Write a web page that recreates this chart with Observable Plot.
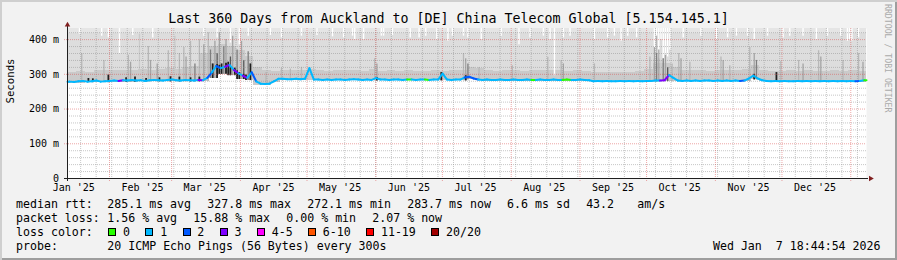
<!DOCTYPE html>
<html><head><meta charset="utf-8">
<script src="https://cdn.jsdelivr.net/npm/d3@7"></script>
<script src="https://cdn.jsdelivr.net/npm/@observablehq/plot@0.6"></script>
<style>
html,body{margin:0;padding:0;background:#f2f2f2;}
#wrap{position:relative;width:897px;height:260px;background:#f2f2f2;box-shadow:inset 2px 2px 0 #cfcfcf, inset -2px -2px 0 #9e9e9e;font-family:"DejaVu Sans Mono",monospace;color:#000;overflow:hidden;}
#title{position:absolute;left:0;top:10.7px;width:897px;text-align:center;font-size:13.3px;line-height:16px;white-space:pre;}
#chart{position:absolute;left:0;top:20px;}
#legend{position:absolute;left:16px;top:196.5px;font-size:11.6px;line-height:14px;white-space:pre;}
.row{height:14px;}
.lab{display:inline-block;width:91.3px;}
.lab3{display:inline-block;width:92.3px;}
.item{display:inline-block;margin-right:16.2px;}
.entry{display:inline-block;margin-right:15.5px;}
.box{display:inline-block;width:6px;height:6px;border:1px solid #000;margin-right:6.7px;}
#stamp{position:absolute;right:16.5px;top:238.5px;font-size:11.6px;line-height:14px;white-space:pre;}
#wm{position:absolute;left:883px;top:4px;writing-mode:vertical-rl;font-size:8.2px;line-height:10px;color:#aaaaaa;white-space:pre;}
</style>
</head><body>
<div id="wrap">
  <div id="title"></div>
  <div id="chart"></div>
  <div id="wm"></div>
  <div id="legend"></div>
  <div id="stamp"></div>
</div>
<script>
// ---------------- data ----------------
const titleText = "Last 360 Days from Auckland to [DE] China Telecom Global [5.154.145.1]";
const watermark = "RRDTOOL / TOBI OETIKER";
const yLabel = "Seconds";
const windowStart = "2025-01-13T02:00:00Z";
const windowDays = 360;
const yMax = 432;

const yTicks = [0, 100, 200, 300, 400];
const yTickLabels = ["0", "100 m", "200 m", "300 m", "400 m"];
const xTickDates = ["2025-01-15","2025-02-15","2025-03-15","2025-04-15","2025-05-15","2025-06-15",
                    "2025-07-15","2025-08-15","2025-09-15","2025-10-15","2025-11-15","2025-12-15"];
const xTickLabels = ["Jan '25","Feb '25","Mar '25","Apr '25","May '25","Jun '25",
                     "Jul '25","Aug '25","Sep '25","Oct '25","Nov '25","Dec '25"];

const lossLabels = ["0","1","2","3","4-5","6-10","11-19","20/20"];
const lossColors = ["#26ff00","#00b8ff","#0059ff","#7e00ff","#ff00ff","#ff5500","#ff0000","#a10000"];

// median rtt (ms), one value every 2 days
const medianStepDays = 2;
const median = [
279,278,280,281,279,280,282,279,280,281,
282,281,283,282,284,282,283,281,283,284,
283,282,284,285,283,282,284,283,282,284,
283,290,305,324,318,322,327,312,303,296,
290,306,280,273,272,273,280,287,287,286,
286,287,286,287,318,285,285,284,285,284,
285,285,284,285,286,285,284,285,284,289,
285,285,284,285,285,284,285,285,284,285,
285,284,285,285,302,285,284,285,285,291,
293,288,285,284,285,284,284,285,284,284,
285,284,284,285,284,284,285,284,284,285,
284,284,285,284,284,285,284,283,280,281,
280,281,280,280,281,280,281,280,281,280,
281,281,282,282,283,298,290,282,281,282,
281,282,281,282,282,281,282,281,282,281,
282,281,282,288,296,288,283,281,280,281,
280,281,280,280,281,280,281,280,281,280,
281,280,281,280,281,280,281,280,281,283];
// loss bucket (index into lossLabels), one value every 2 days
const loss = [
1,1,1,1,1,1,1,1,1,1,
1,3,1,1,1,1,1,1,1,1,
1,1,1,1,1,1,1,1,1,3,
1,2,1,2,1,3,1,3,1,3,
1,2,1,1,1,1,1,1,1,1,
1,1,1,1,1,1,1,1,1,1,
1,1,1,1,1,1,1,1,1,1,
1,1,1,1,1,1,0,1,1,1,
0,1,1,1,1,1,1,1,1,2,
2,2,1,1,1,1,1,1,1,1,
1,1,1,1,0,1,1,1,1,1,
1,0,0,1,1,1,1,1,1,1,
1,1,1,1,1,1,1,1,1,1,
1,1,1,3,3,1,1,1,1,1,
1,1,1,1,1,1,1,1,1,1,
1,2,1,1,1,1,1,1,1,1,
1,1,1,1,1,1,1,1,1,1,
1,1,1,1,1,1,1,2,1,0];

// smoke (ms), one value every 4 days
const smokeStepDays = 4;
const smokeLow = [
275,275,276,276,276,277,277,277,278,278,
278,278,278,278,278,279,288,300,296,285,
282,269,268,276,282,282,282,281,281,281,
281,281,281,281,281,281,281,281,281,281,
281,281,281,281,281,284,281,280,280,280,
280,280,280,280,280,280,280,280,279,277,
277,277,277,277,277,277,278,279,278,278,
278,278,278,278,278,278,278,284,278,277,
277,277,277,277,277,277,277,277,277,277];
const smokeMid = [
305,308,306,310,310,310,312,310,315,312,
315,318,315,320,322,360,380,385,380,370,
350,320,310,308,310,312,310,315,310,308,
310,312,310,308,315,308,310,308,310,308,
308,310,308,310,310,320,318,310,308,310,
312,308,310,310,312,310,308,310,308,306,
306,306,306,306,308,315,330,330,320,310,
310,310,308,310,310,310,315,325,312,308,
308,310,308,310,308,308,310,308,310,308];
const smokeBodyTop = 417;
const smokeCapTop = 432;

const spikeShadeColors = ["#cacaca","#b7b7b7","#a4a4a4","#7e7e7e","#585858","#202020"];
const spikeDates = [
"2025-01-19","2025-01-22","2025-01-24","2025-01-29","2025-01-31","2025-02-08","2025-02-09","2025-02-10",
"2025-02-12","2025-02-14","2025-02-17","2025-02-18","2025-02-19","2025-02-22","2025-02-23","2025-02-27",
"2025-02-28","2025-03-02","2025-03-04","2025-03-04","2025-03-06","2025-03-07","2025-03-09","2025-03-09",
"2025-03-11","2025-03-13","2025-03-13","2025-03-15","2025-03-17","2025-03-18","2025-03-19","2025-03-20",
"2025-03-21","2025-03-21","2025-03-22","2025-03-22","2025-03-23","2025-03-24","2025-03-25","2025-03-25",
"2025-03-26","2025-03-27","2025-03-27","2025-03-28","2025-03-29","2025-03-30","2025-03-30","2025-03-31",
"2025-04-01","2025-04-02","2025-04-02","2025-04-03","2025-04-04","2025-04-05","2025-04-12","2025-04-19",
"2025-04-23","2025-04-28","2025-05-31","2025-06-01","2025-06-01","2025-06-30","2025-07-10","2025-07-11",
"2025-07-11","2025-07-12","2025-07-17","2025-08-01","2025-08-17","2025-08-23","2025-08-24","2025-09-07",
"2025-10-02","2025-10-04","2025-10-05","2025-10-05","2025-10-06","2025-10-07","2025-10-08","2025-10-09",
"2025-10-10","2025-10-12","2025-10-15","2025-10-16","2025-10-20","2025-11-03","2025-11-04","2025-11-07",
"2025-11-16","2025-11-18","2025-11-18","2025-11-19","2025-11-28","2025-11-30","2025-12-08","2025-12-10",
"2025-12-17","2025-12-18","2025-12-28","2026-01-04","2026-01-06"];
const spikeTops = [
360,288,287,340,298,290,355,335,
292,415,288,380,340,330,290,368,
293,410,360,292,377,350,395,290,
330,400,292,385,420,370,330,395,
360,328,420,326,330,380,400,332,
335,350,322,410,318,370,310,305,
395,340,300,298,365,330,305,318,
315,320,345,330,290,305,360,345,
296,330,320,325,349,340,330,330,
350,377,410,360,370,400,345,355,
320,330,360,345,335,350,340,325,
377,360,300,340,305,337,340,330,
368,350,340,360,335];
const spikeShades = [
1,5,5,1,5,5,1,2,
5,0,5,1,2,2,5,1,
5,0,1,5,1,2,1,5,
3,1,5,2,1,3,5,2,
4,5,2,5,5,3,2,5,
5,4,5,2,5,3,5,5,
2,4,5,5,3,5,1,1,
1,1,1,2,5,5,1,2,
5,3,1,1,1,1,2,1,
1,2,1,3,2,0,3,2,
4,1,1,2,1,1,2,1,
1,2,5,3,5,1,1,2,
1,2,1,1,2];

const notchDates = [
"2025-01-18","2025-01-28","2025-01-31","2025-02-05","2025-02-11","2025-02-20","2025-03-15","2025-03-21",
"2025-03-27","2025-03-31","2025-04-04","2025-04-14","2025-04-19","2025-04-28","2025-05-05","2025-05-12",
"2025-05-17","2025-05-21","2025-05-22","2025-05-26","2025-06-03","2025-06-04","2025-06-08","2025-06-16",
"2025-06-20","2025-06-23","2025-06-28","2025-07-03","2025-07-05","2025-07-10","2025-07-12","2025-07-18",
"2025-07-27","2025-08-04","2025-08-09","2025-08-15","2025-08-18","2025-08-20","2025-08-24","2025-08-27",
"2025-09-07","2025-09-13","2025-09-16","2025-09-19","2025-09-22","2025-09-26","2025-10-04","2025-10-05",
"2025-10-06","2025-10-07","2025-10-08","2025-10-09","2025-10-10","2025-10-11","2025-10-17","2025-10-25",
"2025-11-01","2025-11-06","2025-11-10","2025-11-15","2025-11-18","2025-11-24","2025-12-01","2025-12-04",
"2025-12-10","2025-12-16","2025-12-21","2025-12-27","2025-12-30","2025-12-31","2026-01-01","2026-01-04"];
const notchBottoms = [
415,410,405,360,412,405,410,405,
390,385,410,412,405,410,412,408,
405,410,400,400,410,410,412,405,
405,410,400,395,410,410,405,400,
410,385,405,410,400,296,405,410,
400,405,410,395,410,405,345,350,
345,340,345,355,350,370,405,410,
400,405,410,410,400,410,405,410,
410,400,410,410,395,400,395,405];

const rttLabel = "median rtt:";
const rttStats = ["285.1 ms avg","327.8 ms max","272.1 ms min","283.7 ms now","6.6 ms sd","43.2 ","am/s"];
const lossLabel = "packet loss:";
const lossStats = ["1.56 % avg","15.88 % max","0.00 % min","2.07 % now"];
const colorLabel = "loss color:";
const probeLabel = "probe:";
const probeText = "20 ICMP Echo Pings (56 Bytes) every 300s";
const stampText = "Wed Jan  7 18:44:54 2026";

// ---------------- build ----------------
const DAY = 864e5;
const t0 = new Date(windowStart);
const t1 = new Date(+t0 + windowDays * DAY);
const tAt = d => new Date(+t0 + d * DAY);
const atNoon = s => new Date(s + "T12:00:00Z");

const medPts = median.map((v, i) => ({t: tAt(medianStepDays * i + medianStepDays / 2), v, c: lossColors[loss[i]]}));
const segs = [];
segs.push({a: {t: t0, v: median[0]}, b: medPts[0], c: medPts[0].c});
for (let i = 0; i < medPts.length - 1; i++) segs.push({a: medPts[i], b: medPts[i + 1], c: medPts[i].c});
segs.push({a: medPts[medPts.length - 1], b: {t: t1, v: median[median.length - 1]}, c: medPts[medPts.length - 1].c});

const bins = smokeLow.map((lo, j) => ({x1: tAt(j * smokeStepDays), x2: tAt((j + 1) * smokeStepDays), lo, mid: smokeMid[j]}));
const lowAt = t => smokeLow[Math.max(0, Math.min(smokeLow.length - 1, Math.floor((t - t0) / (smokeStepDays * DAY))))];
const spikes = spikeDates.map((d, k) => ({t: atNoon(d), lo: lowAt(atNoon(d)), hi: spikeTops[k], c: spikeShadeColors[spikeShades[k]], w: spikeShades[k] === 5 ? 1.8 : 1.3}));
const notches = notchDates.map((d, k) => ({t: atNoon(d), lo: notchBottoms[k]}));

const yMinor = d3.range(20, yMax, 20).filter(v => v % 100 !== 0);
const yMajor = yTicks.filter(v => v > 0);
const weeks = d3.utcSunday.range(t0, t1);
const months = d3.utcMonth.range(t0, t1);
const xTickMap = new Map(xTickDates.map((d, i) => [+new Date(d + "T00:00:00Z"), xTickLabels[i]]));
const yTickMap = new Map(yTicks.map((v, i) => [v, yTickLabels[i]]));

const gridMinor = "rgba(143,143,143,0.5)";
const gridMajor = "rgba(222,79,79,0.5)";

const chart = Plot.plot({
  width: 897, height: 177,
  marginLeft: 67, marginRight: 31, marginTop: 8, marginBottom: 19,
  x: {type: "utc", domain: [t0, t1]},
  y: {domain: [0, yMax]},
  color: {type: "identity"},
  style: {background: "transparent", fontFamily: "DejaVu Sans Mono", fontSize: "10px", color: "#000", overflow: "visible"},
  marks: [
    Plot.frame({fill: "#ffffff", stroke: null}),
    Plot.rect(bins, {x1: "x1", x2: "x2", y1: "lo", y2: smokeCapTop, fill: "#e5e5e5", shapeRendering: "crispEdges"}),
    Plot.rect(bins, {x1: "x1", x2: "x2", y1: "lo", y2: smokeBodyTop, fill: "#dddddd", shapeRendering: "crispEdges"}),
    Plot.rect(bins, {x1: "x1", x2: "x2", y1: "lo", y2: "mid", fill: "#cacaca", shapeRendering: "crispEdges"}),
    Plot.ruleX(notches, {x: "t", y1: "lo", y2: yMax, stroke: "#ffffff", strokeWidth: 1.4}),
    Plot.ruleX(spikes, {x: "t", y1: "lo", y2: "hi", stroke: "c", strokeWidth: "w"}),
    Plot.ruleY(yMinor, {stroke: gridMinor, strokeDasharray: "1,1"}),
    Plot.ruleX(weeks, {stroke: gridMinor, strokeDasharray: "1,1"}),
    Plot.ruleY(yMajor, {stroke: gridMajor, strokeDasharray: "1,1", insetLeft: -3}),
    Plot.ruleX(months, {stroke: gridMajor, strokeDasharray: "1,1", insetBottom: -3}),
    Plot.link(segs, {x1: d => d.a.t, y1: d => d.a.v, x2: d => d.b.t, y2: d => d.b.v, stroke: "c", strokeWidth: 2, strokeLinecap: "round"}),
    Plot.ruleY([0], {stroke: "#1f1f1f", insetLeft: -3, insetRight: -2}),
    Plot.ruleX([t0], {stroke: "#1f1f1f", insetTop: -2, insetBottom: -3}),
    Plot.dot([[t0, yMax]], {x: d => d[0], y: d => d[1], symbol: "triangle", r: 2.05, fill: "#801f1f", stroke: "none", dy: -3.5}),
    Plot.dot([[t1, 0]], {x: d => d[0], y: d => d[1], symbol: "triangle", r: 2.05, fill: "#801f1f", stroke: "none", rotate: 90, dx: 4.1}),
    Plot.axisY({ticks: yTicks, tickFormat: v => yTickMap.get(v), tickSize: 0, tickPadding: 8.5, label: null, fontSize: 10}),
    Plot.axisX({ticks: [...xTickMap.keys()].map(k => new Date(k)), tickFormat: d => xTickMap.get(+d), tickSize: 0, tickPadding: 5.5, label: null, fontSize: 10, dx: 2}),
    Plot.text([yLabel], {frameAnchor: "left", dx: -57.3, rotate: -90, fontSize: 10.7, fill: "#000"})
  ]
});
document.getElementById("chart").appendChild(chart);

document.getElementById("title").textContent = titleText;
document.getElementById("wm").textContent = watermark;
document.getElementById("stamp").textContent = stampText;

const leg = document.getElementById("legend");
function el(tag, cls, text) { const e = document.createElement(tag); if (cls) e.className = cls; if (text != null) e.textContent = text; return e; }
const r1 = el("div", "row"); r1.appendChild(el("span", "lab", rttLabel));
rttStats.forEach(s => r1.appendChild(el("span", "item", s)));
const r2 = el("div", "row"); r2.appendChild(el("span", "lab", lossLabel));
lossStats.forEach(s => r2.appendChild(el("span", "item", s)));
const r3 = el("div", "row"); r3.appendChild(el("span", "lab3", colorLabel));
lossLabels.forEach((l, i) => {
  const e = el("span", "entry");
  const b = el("span", "box"); b.style.background = lossColors[i];
  e.appendChild(b); e.appendChild(document.createTextNode(l));
  r3.appendChild(e);
});
const r4 = el("div", "row"); r4.appendChild(el("span", "lab", probeLabel)); r4.appendChild(el("span", null, probeText));
[r1, r2, r3, r4].forEach(r => leg.appendChild(r));
</script>
</body></html>
